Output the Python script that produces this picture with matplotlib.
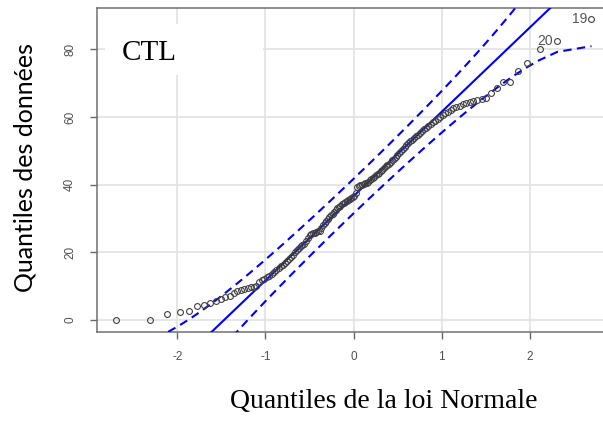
import numpy as np
import matplotlib
matplotlib.use('Agg')
import matplotlib.pyplot as plt
from matplotlib.patches import Rectangle
from statistics import NormalDist

plt.rcParams['axes.unicode_minus'] = False

# sorted sample values (CTL group)
ctl_values = [
    0.0, 0.0, 1.7, 2.4, 2.6, 4.1, 4.5, 5.0, 5.8, 6.3,
    6.8, 7.2, 8.0, 8.6, 9.0, 9.3, 9.5, 9.7, 9.8, 10.0,
    11.2, 11.9, 12.3, 12.6, 13.0, 13.5, 14.1, 14.9, 15.4, 15.9,
    16.4, 17.0, 17.6, 18.1, 18.7, 19.3, 20.0, 20.6, 21.3, 21.8,
    22.3, 22.6, 23.4, 24.4, 25.1, 25.4, 25.6, 25.8, 26.0, 26.2,
    26.4, 27.3, 28.2, 28.8, 29.4, 29.9, 30.5, 31.0, 31.5, 32.0,
    32.5, 33.0, 33.4, 33.8, 34.2, 34.6, 34.9, 35.2, 35.6, 35.9,
    36.2, 36.5, 36.8, 37.5, 39.3, 39.6, 39.8, 40.0, 40.2, 40.4,
    40.6, 40.9, 41.3, 41.7, 42.0, 42.4, 42.8, 43.2, 43.6, 44.0,
    44.4, 44.9, 45.4, 45.8, 46.2, 46.7, 47.2, 47.7, 48.3, 48.8,
    49.4, 50.0, 50.6, 51.2, 51.8, 52.3, 52.8, 53.3, 53.8, 54.3,
    54.8, 55.3, 55.8, 56.4, 56.9, 57.4, 57.9, 58.4, 58.8, 59.3,
    59.9, 60.6, 61.2, 61.6, 62.1, 62.6, 63.0, 63.3, 63.8, 64.2,
    64.4, 64.6, 64.9, 65.2, 65.5, 67.2, 68.6, 70.2, 70.3, 73.5,
    76.0, 80.2, 82.4, 88.9,
]
# row ids of the two most extreme points (largest first)
outlier_ids = ['19', '20']

x_ticks = [-2, -1, 0, 1, 2]
y_ticks = [0, 20, 40, 60, 80]

nd = NormalDist()
y = np.array(ctl_values)
n = len(y)
P = (np.arange(1, n + 1) - 0.5) / n
z = np.array([nd.inv_cdf(p) for p in P])

# reference line through the quartiles, as car::qqPlot does
q1, q3 = np.percentile(y, [25, 75])
zq1, zq3 = nd.inv_cdf(0.25), nd.inv_cdf(0.75)
slope = (q3 - q1) / (zq3 - zq1)
inter = q1 - slope * zq1

# pointwise 95% envelope
dens = np.array([nd.pdf(v) for v in z])
se = slope / dens * np.sqrt(P * (1 - P) / n)
fit = inter + slope * z
zz = nd.inv_cdf(0.975)

fig = plt.figure(figsize=(6.03, 4.21), dpi=100)
ax = fig.add_axes([97 / 603, 89 / 421, 506 / 603, 324 / 421])
ax.set_xlim(-2.91, 2.83)
ax.set_ylim(-3.5, 92.2)

ax.grid(True, color='#e2e2e2', linewidth=1.2, zorder=0)
ax.set_axisbelow(True)

# white box behind the panel title
ax.add_patch(Rectangle((0.016, 0.793), 0.312, 0.158, transform=ax.transAxes,
                       facecolor='white', edgecolor='none', zorder=1))
ax.text(0.049, 0.8395, 'CTL', transform=ax.transAxes, fontsize=21,
        family='Liberation Serif', va='baseline', ha='left', zorder=2)

xl = np.array(ax.get_xlim())
ax.plot(xl, inter + slope * xl, color='#0000ff', lw=1.5, zorder=3)
ax.plot(z, fit + zz * se, color='#0000ff', lw=1.5, ls=(0, (4, 2.6)), zorder=3)
ax.plot(z, fit - zz * se, color='#0000ff', lw=1.5, ls=(0, (4, 2.6)), zorder=3)
ax.set_xlim(xl)

ax.plot(z, y, 'o', mfc='none', mec='#404040', mew=0.8, ms=4.2, zorder=4)

for lab, zi, yi in zip(outlier_ids, z[::-1], y[::-1]):
    ax.annotate(lab, (zi, yi), xytext=(-3, 0), textcoords='offset points',
                ha='right', va='center', fontsize=10, color='#555555',
                family='Liberation Sans')

ax.set_xticks(x_ticks)
ax.set_yticks(y_ticks)
ax.tick_params(axis='both', length=5, width=1, color='#666666',
               labelsize=8.5, labelcolor='#505050')
ax.tick_params(axis='x', pad=9)
ax.tick_params(axis='y', pad=10)
for lbl in ax.get_yticklabels():
    lbl.set_rotation(90)
    lbl.set_va('center')
for lbl in ax.get_xticklabels() + ax.get_yticklabels():
    lbl.set_family('Liberation Sans')

for s in ['left', 'bottom', 'top']:
    ax.spines[s].set_color('#707070')
    ax.spines[s].set_linewidth(1.1)
ax.spines['right'].set_visible(False)

fig.text(25 / 603, 1 - 167 / 421, 'Quantiles des données', rotation=90,
         ha='center', va='center', fontsize=18, family='Lato')
fig.text(384 / 603, 1 - 402 / 421, 'Quantiles de la loi Normale',
         ha='center', va='center', fontsize=20, family='Liberation Serif')

fig.savefig('out.png', dpi=100)
